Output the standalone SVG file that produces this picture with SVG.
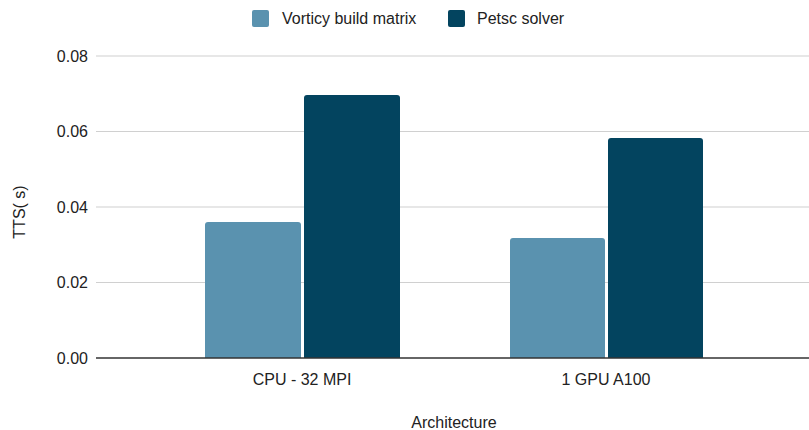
<svg xmlns="http://www.w3.org/2000/svg" width="809" height="430" viewBox="0 0 809 430">
<style>
text{font-family:"Liberation Sans",Arial,sans-serif;fill:#222;font-size:16px}
.grid{stroke:#d0d0d0;stroke-width:1.2}
.light{fill:#5a92af}
.dark{fill:#03445f}
</style>
<rect width="809" height="430" fill="#fff"/>
<g id="legend">
<rect x="252" y="10" width="17" height="17" rx="2" class="light"/>
<text x="282" y="24">Vorticy build matrix</text>
<rect x="448" y="10" width="17" height="17" rx="2" class="dark"/>
<text x="477" y="24">Petsc solver</text>
</g>
<g id="grid">
<line x1="96" y1="56" x2="809" y2="56" class="grid"/>
<line x1="96" y1="131.5" x2="809" y2="131.5" class="grid"/>
<line x1="96" y1="207" x2="809" y2="207" class="grid"/>
<line x1="96" y1="282.5" x2="809" y2="282.5" class="grid"/>
</g>
<g id="yticks" text-anchor="end">
<text x="88" y="62">0.08</text>
<text x="88" y="137">0.06</text>
<text x="88" y="213">0.04</text>
<text x="88" y="288">0.02</text>
<text x="88" y="364">0.00</text>
</g>
<text x="25" y="212" text-anchor="middle" transform="rotate(-90 25 212)">TTS( s)</text>
<g id="bars">
<path d="M205,358V225a3,3 0 0 1 3,-3H298a3,3 0 0 1 3,3V358Z" class="light"/>
<path d="M304,358V98a3,3 0 0 1 3,-3H397a3,3 0 0 1 3,3V358Z" class="dark"/>
<path d="M510,358V241a3,3 0 0 1 3,-3H602a3,3 0 0 1 3,3V358Z" class="light"/>
<path d="M608,358V141a3,3 0 0 1 3,-3H700a3,3 0 0 1 3,3V358Z" class="dark"/>
</g>
<line x1="96" y1="358" x2="809" y2="358" stroke="#333" stroke-width="1.3"/>
<g id="xlabels" text-anchor="middle">
<text x="302" y="385">CPU - 32 MPI</text>
<text x="606" y="385">1 GPU A100</text>
<text x="454" y="428">Architecture</text>
</g>
</svg>
